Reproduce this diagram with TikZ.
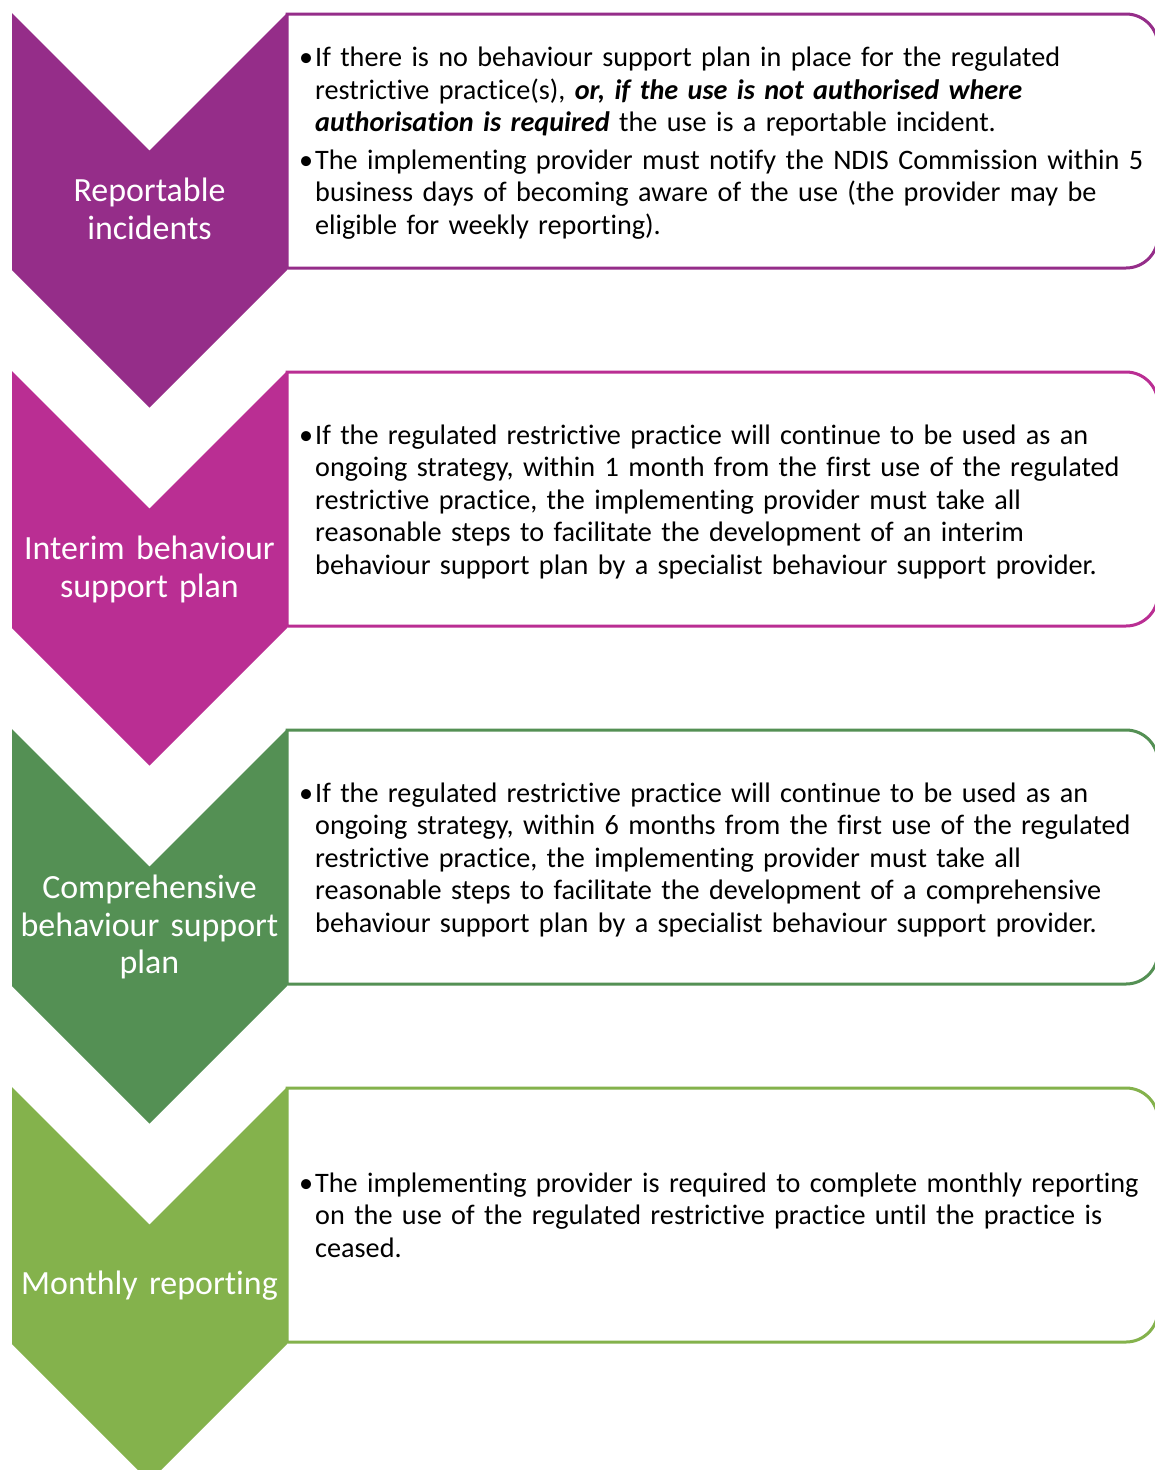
\documentclass[tikz,border=0pt]{standalone}
\usepackage{fontspec}
\setmainfont{Carlito}[Ligatures={NoCommon}]
\definecolor{cpurple}{RGB}{149,45,137}
\definecolor{cmagenta}{RGB}{186,46,147}
\definecolor{cdgreen}{RGB}{84,144,84}
\definecolor{clgreen}{RGB}{132,178,76}
\begin{document}
\begin{tikzpicture}[x=1pt,y=-1pt,
  infobox/.style={line width=3pt, fill=white},
  chev/.style={draw=none},
  boxtext/.style={anchor=base west, inner sep=0pt, text width=900pt, align=left,
    font=\fontsize{28.2}{32.5}\selectfont, text=black},
  chevtext/.style={anchor=base, inner sep=0pt, text width=280pt, align=center,
    font=\fontsize{33.9}{37.5}\selectfont, text=white}]
\useasboundingbox (0,0) rectangle (1155,1470);
\fill[white] (0,0) rectangle (1155,1470);

% boxes
\foreach \k/\col in {0/cpurple,1/cmagenta,2/cdgreen,3/clgreen}{
  \pgfmathsetmacro{\yt}{14+358*\k}
  \pgfmathsetmacro{\yb}{268+358*\k}
  \draw[infobox, draw=\col] (287,\yt) -- (1126,\yt) arc[start angle=-90,end angle=0,radius=32]
     -- (1158,\yb-32) arc[start angle=0,end angle=90,radius=32] -- (287,\yb) -- cycle;
}

% chevrons
\foreach \k/\col in {0/cpurple,1/cmagenta,2/cdgreen,3/clgreen}{
  \pgfmathsetmacro{\yo}{13+358*\k}
  \fill[chev, fill=\col] (12,\yo) -- (149.5,\yo+137.5) -- (287,\yo) -- (287,\yo+257)
     -- (149.5,\yo+394.5) -- (12,\yo+257) -- cycle;
}

% chevron labels
\node[chevtext] (c1) at (149.5,201.6) {Reportable\\incidents};
\node[chevtext] (c2) at (149.5,559.6) {Interim behaviour\\support plan};
\node[chevtext] (c3) at (149.5,898.8) {Comprehensive\\behaviour support\\plan};
\node[chevtext] (c4) at (149.5,1294) {Monthly reporting};

% box texts
\node[boxtext] (t1) at (315,66.5) {\leavevmode\llap{•\hspace{2pt}}If there is no behaviour support plan in place for the regulated\\
restrictive practice(s), \textbf{\textit{or, if the use is not authorised where}}\\
\textbf{\textit{authorisation is required}} the use is a reportable incident.\\[5pt]
\leavevmode\llap{•\hspace{2pt}}The implementing provider must notify the NDIS Commission within 5\\
business days of becoming aware of the use (the provider may be\\
eligible for weekly reporting).};

\node[boxtext] (t2) at (315,444.3) {\leavevmode\llap{•\hspace{2pt}}If the regulated restrictive practice will continue to be used as an\\
ongoing strategy, within 1 month from the first use of the regulated\\
restrictive practice, the implementing provider must take all\\
reasonable steps to facilitate the development of an interim\\
behaviour support plan by a specialist behaviour support provider.};

\node[boxtext] (t3) at (315,802.3) {\leavevmode\llap{•\hspace{2pt}}If the regulated restrictive practice will continue to be used as an\\
ongoing strategy, within 6 months from the first use of the regulated\\
restrictive practice, the implementing provider must take all\\
reasonable steps to facilitate the development of a comprehensive\\
behaviour support plan by a specialist behaviour support provider.};

\node[boxtext] (t4) at (315,1192.3) {\leavevmode\llap{•\hspace{2pt}}The implementing provider is required to complete monthly reporting\\
on the use of the regulated restrictive practice until the practice is\\
ceased.};
\end{tikzpicture}
\end{document}
